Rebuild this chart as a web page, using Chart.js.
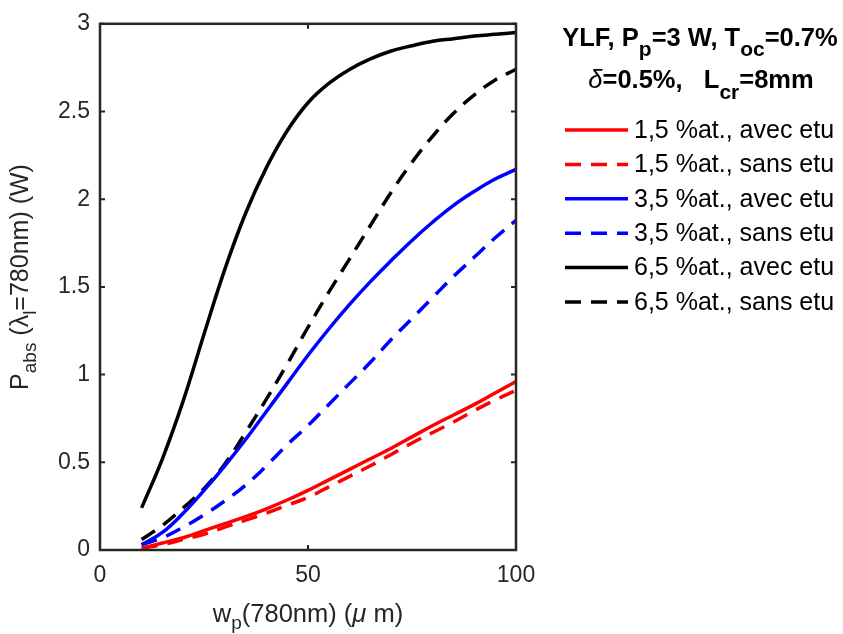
<!DOCTYPE html>
<html>
<head>
<meta charset="utf-8">
<script src="https://cdn.jsdelivr.net/npm/chart.js@4/dist/chart.umd.min.js"></script>
<style>
  html, body { margin: 0; padding: 0; background: #fff; }
  #wrap { width: 843px; height: 634px; }
</style>
</head>
<body>
<div id="wrap"><canvas id="absChart" width="843" height="634"></canvas></div>
<script>
// pump waist (um)
const waist = [10, 15, 20, 25, 30, 35, 40, 45, 50, 55, 60, 65, 70, 75, 80, 85, 90, 95, 100];

// absorbed power (W)
const red15Avec   = [0.01, 0.04, 0.07, 0.11, 0.15, 0.19, 0.235, 0.285, 0.34, 0.40, 0.46, 0.52, 0.58, 0.645, 0.71, 0.77, 0.83, 0.895, 0.96];
const red15Sans   = [0.01, 0.03, 0.06, 0.09, 0.13, 0.17, 0.21, 0.255, 0.30, 0.36, 0.42, 0.48, 0.545, 0.61, 0.67, 0.73, 0.795, 0.855, 0.91];
const blue35Avec  = [0.03, 0.10, 0.21, 0.34, 0.48, 0.63, 0.79, 0.95, 1.11, 1.26, 1.40, 1.53, 1.65, 1.765, 1.87, 1.965, 2.045, 2.115, 2.17];
const blue35Sans  = [0.03, 0.07, 0.13, 0.20, 0.28, 0.37, 0.48, 0.60, 0.71, 0.83, 0.95, 1.07, 1.20, 1.32, 1.44, 1.56, 1.67, 1.78, 1.88];
const black65Avec = [0.24, 0.52, 0.85, 1.23, 1.60, 1.92, 2.18, 2.39, 2.55, 2.66, 2.74, 2.80, 2.845, 2.875, 2.90, 2.915, 2.93, 2.94, 2.95];
const black65Sans = [0.06, 0.14, 0.24, 0.35, 0.49, 0.67, 0.86, 1.06, 1.27, 1.47, 1.66, 1.85, 2.04, 2.21, 2.36, 2.49, 2.595, 2.68, 2.74];

const xTicks = [0, 50, 100];
const yTicks = [0, 0.5, 1, 1.5, 2, 2.5, 3];

const FONT = "'Liberation Sans', Arial, Helvetica, sans-serif";
const AXIS_COLOR = '#262626';

function pts(ys) {
    return waist.map((x, i) => ({ x: x, y: ys[i] }));
}

function series(label, ys, color, dashed) {
    return {
        label: label,
        data: pts(ys),
        borderColor: color,
        backgroundColor: color,
        borderWidth: 3.5,
        borderDash: dashed ? [16, 10] : [],
        pointRadius: 0,
        tension: 0.4,
        fill: false
    };
}

// text with subscripts: parts = [{t, sub, bold, italic}]
function richFont(p, size, subSize) {
    return (p.italic ? 'italic ' : '') + (p.bold ? 'bold ' : '') + (p.sub ? subSize : size) + 'px ' + FONT;
}

function drawRich(ctx, parts, x, y, size, subSize, subShift, align) {
    let w = 0;
    parts.forEach(p => {
        ctx.font = richFont(p, size, subSize);
        w += ctx.measureText(p.t).width;
    });
    let cx = align === 'center' ? x - w / 2 : x;
    ctx.textAlign = 'left';
    ctx.textBaseline = 'alphabetic';
    parts.forEach(p => {
        ctx.font = richFont(p, size, subSize);
        ctx.fillText(p.t, cx, y + (p.sub ? subShift : 0));
        cx += ctx.measureText(p.t).width;
    });
}

const matlabFrame = {
    id: 'matlabFrame',
    afterDraw(chart) {
        const ctx = chart.ctx;
        const a = chart.chartArea;
        const xs = chart.scales.x;
        const ys = chart.scales.y;
        ctx.save();

        // box
        ctx.strokeStyle = AXIS_COLOR;
        ctx.lineWidth = 2.5;
        ctx.strokeRect(a.left, a.top, a.right - a.left, a.bottom - a.top);

        // inward ticks on all four sides
        ctx.lineWidth = 2;
        const tl = 5;
        ctx.beginPath();
        xTicks.forEach(v => {
            const px = xs.getPixelForValue(v);
            ctx.moveTo(px, a.bottom); ctx.lineTo(px, a.bottom - tl);
            ctx.moveTo(px, a.top); ctx.lineTo(px, a.top + tl);
        });
        yTicks.forEach(v => {
            const py = ys.getPixelForValue(v);
            ctx.moveTo(a.left, py); ctx.lineTo(a.left + tl, py);
            ctx.moveTo(a.right, py); ctx.lineTo(a.right - tl, py);
        });
        ctx.stroke();

        ctx.fillStyle = AXIS_COLOR;

        // x axis title
        drawRich(ctx, [
            { t: 'w' }, { t: 'p', sub: true }, { t: '(780nm) (' }, { t: 'μ', italic: true }, { t: ' m)' }
        ], (a.left + a.right) / 2, 622, 25.5, 19, 7, 'center');

        // y axis title (rotated)
        ctx.save();
        ctx.translate(28, 277);
        ctx.rotate(-Math.PI / 2);
        drawRich(ctx, [
            { t: 'P' }, { t: 'abs', sub: true }, { t: ' (' }, { t: 'λ' }, { t: 'l', sub: true }, { t: '=780nm) (W)' }
        ], 0, 0, 25, 19, 8, 'center');
        ctx.restore();

        // legend title
        ctx.fillStyle = '#000';
        drawRich(ctx, [
            { t: 'YLF, P', bold: true }, { t: 'p', bold: true, sub: true },
            { t: '=3 W, T', bold: true }, { t: 'oc', bold: true, sub: true }, { t: '=0.7%', bold: true }
        ], 700, 46, 25.5, 21, 10, 'center');
        drawRich(ctx, [
            { t: 'δ', italic: true }, { t: '=0.5%,   L', bold: true },
            { t: 'cr', bold: true, sub: true }, { t: '=8mm', bold: true }
        ], 701, 88, 25.5, 21, 11, 'center');

        // legend entries from the datasets
        const rowTop = 130, rowStep = 34.4;
        chart.data.datasets.forEach((ds, i) => {
            const y = rowTop + i * rowStep;
            ctx.strokeStyle = ds.borderColor;
            ctx.lineWidth = ds.borderWidth;
            ctx.setLineDash(ds.borderDash);
            ctx.beginPath();
            ctx.moveTo(565, y);
            ctx.lineTo(628, y);
            ctx.stroke();
            ctx.setLineDash([]);
            ctx.fillStyle = '#000';
            ctx.font = '25px ' + FONT;
            ctx.textAlign = 'left';
            ctx.textBaseline = 'middle';
            ctx.fillText(ds.label, 634, y + 1);
        });

        ctx.restore();
    }
};

new Chart(document.getElementById('absChart'), {
    type: 'line',
    data: {
        datasets: [
            series('1,5 %at., avec etu', red15Avec, '#FF0000', false),
            series('1,5 %at., sans etu', red15Sans, '#FF0000', true),
            series('3,5 %at., avec etu', blue35Avec, '#0000FF', false),
            series('3,5 %at., sans etu', blue35Sans, '#0000FF', true),
            series('6,5 %at., avec etu', black65Avec, '#000000', false),
            series('6,5 %at., sans etu', black65Sans, '#000000', true)
        ]
    },
    options: {
        responsive: false,
        animation: false,
        devicePixelRatio: 1,
        layout: { padding: { left: 0, right: 327, top: 16, bottom: 0 } },
        plugins: {
            legend: { display: false },
            tooltip: { enabled: false }
        },
        scales: {
            x: {
                type: 'linear',
                min: 0,
                max: 100,
                afterBuildTicks: s => { s.ticks = xTicks.map(v => ({ value: v })); },
                afterFit: s => { s.height = 84; },
                grid: { display: false, drawTicks: false },
                border: { display: false },
                ticks: {
                    color: AXIS_COLOR,
                    padding: 12,
                    maxRotation: 0,
                    font: { family: FONT, size: 23 }
                }
            },
            y: {
                type: 'linear',
                min: 0,
                max: 3,
                afterBuildTicks: s => { s.ticks = yTicks.map(v => ({ value: v })); },
                afterFit: s => { s.width = 100; },
                grid: { display: false, drawTicks: false },
                border: { display: false },
                ticks: {
                    color: AXIS_COLOR,
                    padding: 10,
                    font: { family: FONT, size: 23 },
                    callback: v => String(v)
                }
            }
        }
    },
    plugins: [matlabFrame]
});
</script>
</body>
</html>
